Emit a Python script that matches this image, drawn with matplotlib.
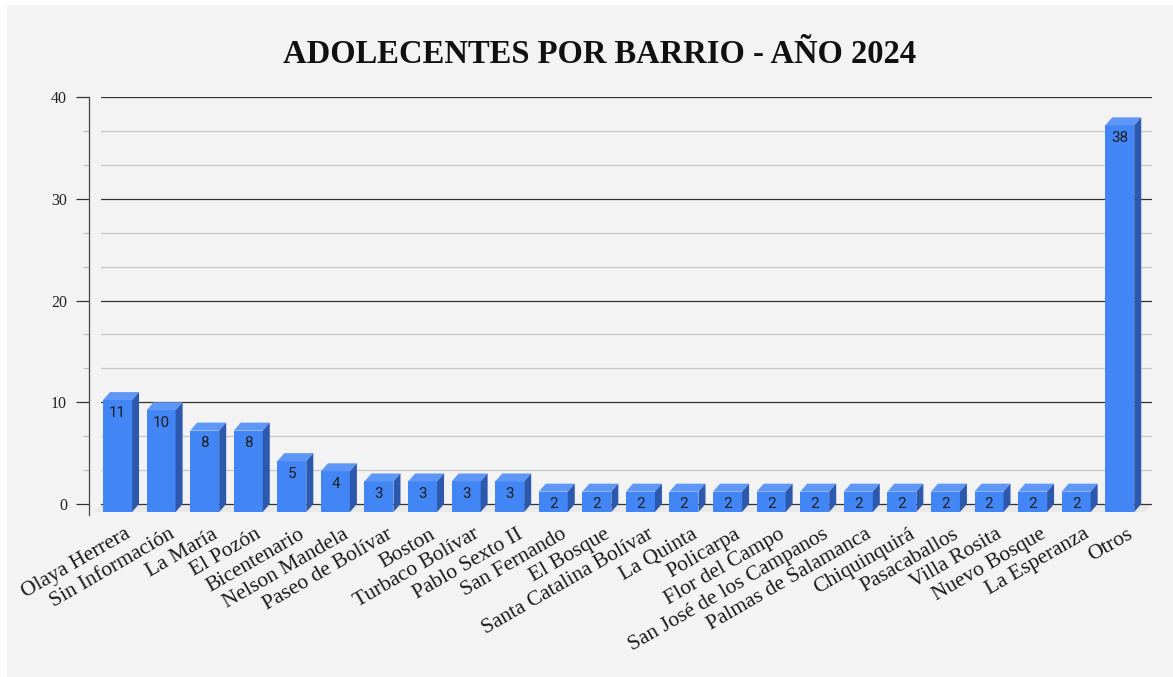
import numpy as np
import matplotlib.pyplot as plt
from matplotlib.patches import Polygon, Rectangle
from matplotlib.ticker import MultipleLocator

barrios = ["Olaya Herrera", "Sin Información", "La María", "El Pozón", "Bicentenario",
           "Nelson Mandela", "Paseo de Bolívar", "Boston", "Turbaco Bolívar", "Pablo Sexto II",
           "San Fernando", "El Bosque", "Santa Catalina Bolívar", "La Quinta", "Policarpa",
           "Flor del Campo", "San José de los Campanos", "Palmas de Salamanca", "Chiquinquirá",
           "Pasacaballos", "Villa Rosita", "Nuevo Bosque", "La Esperanza", "Otros"]
adolescentes = [11, 10, 8, 8, 5, 4, 3, 3, 3, 3, 2, 2, 2, 2, 2, 2, 2, 2, 2, 2, 2, 2, 2, 38]
titulo = "ADOLECENTES POR BARRIO - AÑO 2024"

# colores tipo google sheets
C_FRONT = "#4285f4"
C_TOP = "#5f97f6"
C_SIDE = "#2c59ad"
C_BG = "#f3f3f3"

W, H = 1173, 677
fig = plt.figure(figsize=(W / 100, H / 100), dpi=100)
fig.patch.set_facecolor("white")
fig.patches.append(Rectangle((7 / W, 0), 1 - 7 / W, 1 - 5 / H, transform=fig.transFigure,
                             facecolor=C_BG, edgecolor="none", zorder=-10))

ax = fig.add_axes([101 / W, (H - 515.2) / H, 1051 / W, 418.2 / H])
ax.set_facecolor("none")

x0, x1 = -0.54, 23.58
y0, y1 = -1.1, 40
ax.set_xlim(x0, x1)
ax.set_ylim(y0, y1)

# desplazamiento de profundidad (cara frontal vs plano de fondo)
px_x = 1051 / (x1 - x0)
px_y = 418.2 / (y1 - y0)
dx = 7 / px_x
dy = 8 / px_y
w = 29 / px_x

# piso
ax.add_patch(Polygon([(x0, 0), (x1, 0), (x1 - dx, -dy), (x0 - dx, -dy)],
                     closed=True, facecolor="#e9e9e9", edgecolor="none", zorder=0.2,
                     clip_on=False))

for i, v in enumerate(adolescentes):
    l, r = i - w / 2, i + w / 2
    ax.add_patch(Rectangle((l - dx, -dy), w, v, facecolor=C_FRONT, edgecolor="none", zorder=3))
    ax.add_patch(Polygon([(l - dx, v - dy), (r - dx, v - dy), (r, v), (l, v)], closed=True,
                         facecolor=C_TOP, edgecolor="none", zorder=3, clip_on=False))
    ax.add_patch(Polygon([(r - dx, -dy), (r, 0), (r, v), (r - dx, v - dy)], closed=True,
                         facecolor=C_SIDE, edgecolor="none", zorder=3, clip_on=False))
    ax.annotate(str(v), (i - dx, v - dy), xytext=(0, -9.2), textcoords="offset points",
                ha="center", va="center", fontsize=11, family="Roboto", color="#1f1f1f",
                zorder=4)

ax.yaxis.set_major_locator(MultipleLocator(10))
ax.yaxis.set_minor_locator(MultipleLocator(10 / 3))
ax.set_axisbelow(True)
ax.grid(which="major", axis="y", color="#333333", linewidth=0.9)
ax.grid(which="minor", axis="y", color="#c8c8c8", linewidth=0.9)

for s in ["top", "right", "bottom"]:
    ax.spines[s].set_visible(False)
ax.spines["left"].set_position(("outward", 8.6))
ax.spines["left"].set_color("#444444")
ax.spines["left"].set_linewidth(0.9)

ax.tick_params(axis="y", which="major", length=9.4, width=0.9, color="#333333", pad=6.5,
               labelsize=11.5, labelcolor="#222222")
ax.tick_params(axis="y", which="minor", length=4.3, width=0.9, color="#c0c0c0")
for t in ax.get_yticklabels():
    t.set_family("Liberation Serif")

ax.set_xticks(np.arange(len(barrios)))
ax.set_xticklabels(barrios, rotation=30, ha="right", va="top", rotation_mode="anchor",
                   family="Liberation Serif", fontsize=15.5, color="#1a1a1a")
ax.tick_params(axis="x", length=0, pad=7)

fig.text(600 / W, 1 - 63 / H, titulo, ha="center", va="baseline", fontsize=23.5,
         fontweight="bold", family="Liberation Serif", color="#111111")

fig.savefig("out.png", dpi=100, facecolor=fig.get_facecolor())
